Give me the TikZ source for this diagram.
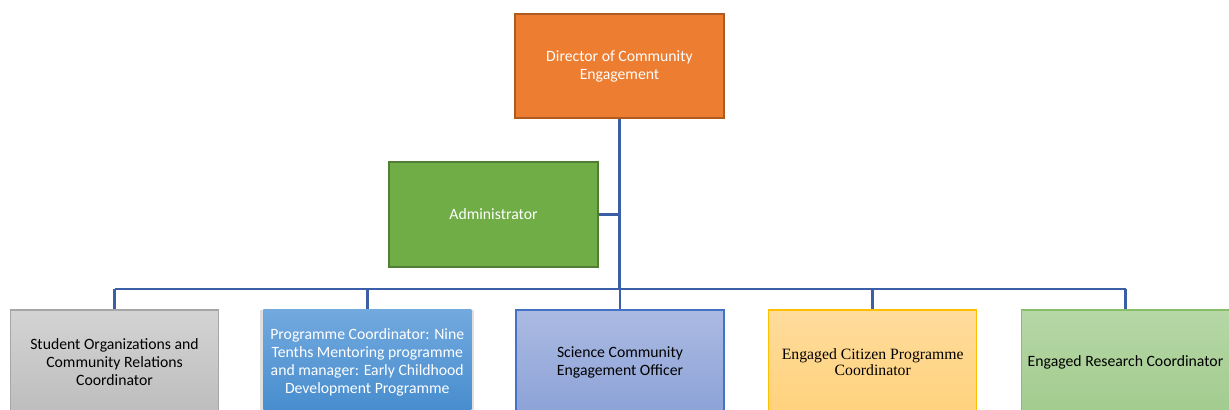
\documentclass[tikz,border=0pt]{standalone}
\usepackage{fontspec}
\setmainfont{Carlito}
\newfontfamily\timesfont{Liberation Serif}
\usetikzlibrary{shadows}

\definecolor{dirfill}{HTML}{ED7D31}
\definecolor{dirline}{HTML}{AE5A21}
\definecolor{admfill}{HTML}{70AD47}
\definecolor{admline}{HTML}{507E32}
\definecolor{linkblue}{HTML}{3B5FA6}

\tikzset{
	orgbox/.style={rectangle, line width=1.1pt, minimum width=156pt, minimum height=78pt, align=center, font=\fontsize{11.8}{13.5}\selectfont},
	topbox/.style={orgbox, line width=1.9pt, minimum width=156.75pt, text=white},
	link/.style={line width=2.2pt, color=linkblue},
}

\begin{document}
\begin{tikzpicture}[x=0.75pt, y=0.75pt]
			%%%%% START %%%%%
			
			\useasboundingbox (0, 0) rectangle (1229, 410);
			\clip (0, 0) rectangle (1229, 410);
			
			% top of the tree
			\node[topbox, fill=dirfill, draw=dirline] (dir) at (619.5, 344) {Director of Community\\Engagement};
			\node[topbox, fill=admfill, draw=admline, minimum height=78.75pt] (admin) at (493.5, 195.5) {Administrator};
			
			% bottom row
			\node[orgbox, draw=black!35, top color=black!17, bottom color=black!26] (b1) at (114.5, 48) {Student Organizations and\\Community Relations\\Coordinator};
			\node[orgbox, draw=none, text=white, top color={rgb,255:red,114;green,169;blue,222}, bottom color={rgb,255:red,70;green,140;blue,206}, drop shadow={shadow xshift=0pt, shadow yshift=-1pt, shadow scale=1.03, opacity=0.25}] (b2) at (367.25, 48) {Programme Coordinator: Nine\\Tenths Mentoring programme\\and manager: Early Childhood\\Development Programme};
			\node[orgbox, draw={rgb,255:red,68;green,114;blue,196}, top color={rgb,255:red,171;green,186;blue,226}, bottom color={rgb,255:red,140;green,162;blue,215}] (b3) at (620, 48) {Science Community\\Engagement Officer};
			\node[orgbox, draw={rgb,255:red,255;green,192;blue,0}, top color={rgb,255:red,255;green,220;blue,156}, bottom color={rgb,255:red,255;green,210;blue,124}, font=\timesfont\fontsize{11.8}{12}\selectfont] (b4) at (872.75, 48) {Engaged Citizen Programme\\Coordinator};
			\node[orgbox, draw={rgb,255:red,137;green,190;blue,105}, top color={rgb,255:red,182;green,215;blue,166}, bottom color={rgb,255:red,162;green,203;blue,142}] (b5) at (1125.5, 48) {Engaged Research Coordinator};
			
			% connectors
			\coordinate (bus) at (620, 121);
			\draw[link] (dir.south) -- (dir.south |- bus);
			\draw[link] (admin.east) -- (admin.east -| dir.south);
			\draw[link] (b1.north |- bus) -- (b5.north |- bus);
			\foreach \b in {b1, b2, b3, b4, b5}
				\draw[link] (\b.north |- bus) -- (\b.north);
			
			%%%%% END %%%%%
		\end{tikzpicture}
\end{document}
